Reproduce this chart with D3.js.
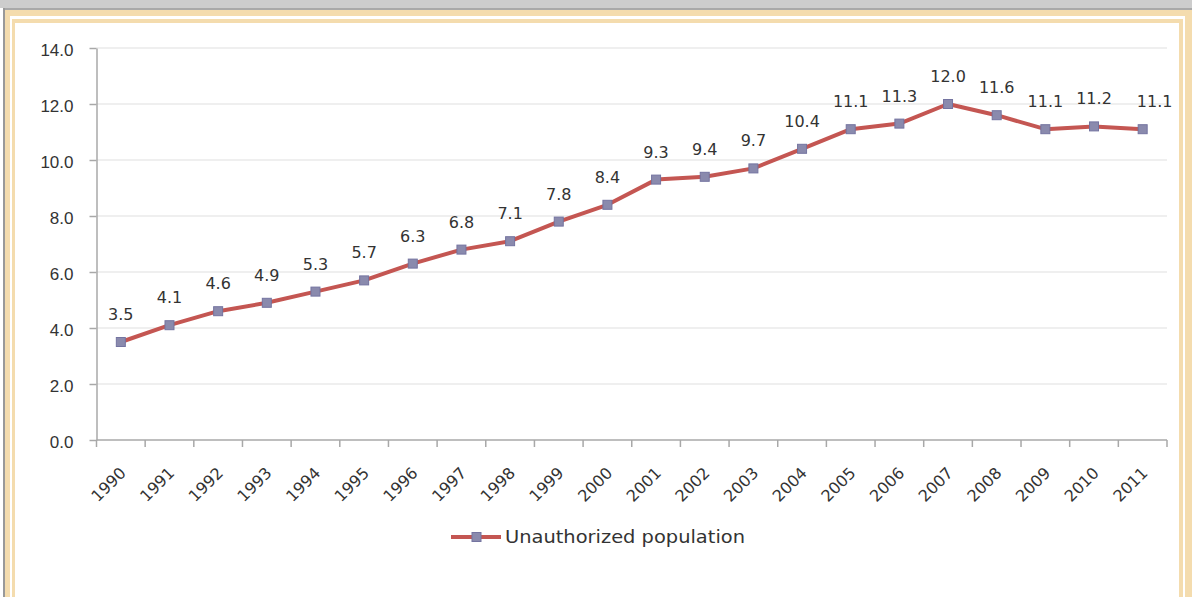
<!DOCTYPE html>
<html>
<head>
<meta charset="utf-8">
<script src="https://cdn.jsdelivr.net/npm/d3@7"></script>
<style>
  body { margin: 0; background: #fff; }
  svg { display: block; font-family: "DejaVu Sans", Verdana, sans-serif; }
  .grid line { stroke: #dfdfdf; stroke-width: 1; }
  .axis path, .axis line { stroke: #a8a8a8; stroke-width: 1.5; }
  .axis text { fill: #333; }
</style>
</head>
<body>
<div id="chart"></div>
<script>
// Data
const years = ["1990","1991","1992","1993","1994","1995","1996","1997","1998","1999","2000",
               "2001","2002","2003","2004","2005","2006","2007","2008","2009","2010","2011"];
const population = [3.5, 4.1, 4.6, 4.9, 5.3, 5.7, 6.3, 6.8, 7.1, 7.8, 8.4,
                    9.3, 9.4, 9.7, 10.4, 11.1, 11.3, 12.0, 11.6, 11.1, 11.2, 11.1];
const yTicks = [0, 2, 4, 6, 8, 10, 12, 14];
const seriesName = "Unauthorized population";

const width = 1192, height = 597;
const lineColor = "#c45652", markerFill = "#8a8aad", markerStroke = "#7474a0";
const beige = "#f4dcae";

const svg = d3.select("#chart").append("svg")
    .attr("width", width)
    .attr("height", height);

// Frame (window chrome + beige double border)
svg.append("rect").attr("x", 0).attr("y", 0).attr("width", width).attr("height", 8).attr("fill", "#cdcdcd");
svg.append("rect").attr("x", 3).attr("y", 8).attr("width", width - 3).attr("height", 2).attr("fill", "#a9a9a9");
svg.append("rect").attr("x", 3).attr("y", 8).attr("width", 2).attr("height", height).attr("fill", "#999");
svg.append("rect").attr("x", 5).attr("y", 10).attr("width", width - 5).attr("height", height).attr("fill", beige);
svg.append("rect").attr("x", 10).attr("y", 16).attr("width", 1175).attr("height", height).attr("fill", "#fff");
svg.append("rect").attr("x", 12).attr("y", 19).attr("width", 1171).attr("height", height).attr("fill", beige);
svg.append("rect").attr("x", 15).attr("y", 23).attr("width", 1164).attr("height", height).attr("fill", "#fff");

// Scales
const x = d3.scaleBand()
    .domain(years)
    .range([96.5, 1167]);

const y = d3.scaleLinear()
    .domain([0, 14])
    .range([440, 48]);

const cx = d => x(d) + x.bandwidth() / 2;

// Gridlines
svg.append("g")
    .attr("class", "grid")
    .selectAll("line")
    .data(yTicks.filter(d => d > 0))
    .enter()
    .append("line")
        .attr("x1", x.range()[0])
        .attr("x2", x.range()[1])
        .attr("y1", d => y(d))
        .attr("y2", d => y(d));

// Y axis
const yAxis = svg.append("g")
    .attr("class", "axis")
    .attr("transform", `translate(${x.range()[0]},0)`)
    .call(d3.axisLeft(y)
        .tickValues(yTicks)
        .tickFormat(d3.format(".1f"))
        .tickSize(7)
        .tickSizeOuter(0)
        .tickPadding(16));
yAxis.selectAll("text")
    .style("font-size", "17px")
    .attr("dy", "0.45em");

// X axis: ticks between categories
const xAxis = svg.append("g")
    .attr("class", "axis")
    .attr("transform", `translate(0,${y(0)})`);
xAxis.append("line")
    .attr("x1", x.range()[0])
    .attr("x2", x.range()[1]);
xAxis.selectAll(".tick")
    .data(years.concat(["end"]))
    .enter()
    .append("line")
        .attr("class", "tick")
        .attr("x1", (d, i) => x.range()[0] + i * x.bandwidth())
        .attr("x2", (d, i) => x.range()[0] + i * x.bandwidth())
        .attr("y1", 0)
        .attr("y2", 7);
xAxis.selectAll("text")
    .data(years)
    .enter()
    .append("text")
        .attr("transform", d => `translate(${cx(d) + 6},${34}) rotate(-45)`)
        .attr("text-anchor", "end")
        .style("font-size", "16px")
        .text(d => d);

// Line
const line = d3.line()
    .x((d, i) => cx(years[i]))
    .y(d => y(d));

svg.append("path")
    .datum(population)
    .attr("fill", "none")
    .attr("stroke", lineColor)
    .attr("stroke-width", 4)
    .attr("stroke-linejoin", "round")
    .attr("d", line);

// Markers
svg.append("g")
    .selectAll("rect")
    .data(population)
    .enter()
    .append("rect")
        .attr("x", (d, i) => cx(years[i]) - 4.5)
        .attr("y", d => y(d) - 4.5)
        .attr("width", 9)
        .attr("height", 9)
        .attr("fill", markerFill)
        .attr("stroke", markerStroke)
        .attr("stroke-width", 1);

// Data labels (last one nudged right, like Excel does)
svg.append("g")
    .selectAll("text")
    .data(population)
    .enter()
    .append("text")
        .attr("x", (d, i) => cx(years[i]) + (i === population.length - 1 ? 12 : 0))
        .attr("y", d => y(d) - 22)
        .attr("text-anchor", "middle")
        .attr("fill", "#333")
        .style("font-size", "16px")
        .text(d => d.toFixed(1));

// Legend
const legend = svg.append("g").attr("transform", "translate(451,537)");
legend.append("line")
    .attr("x1", 0).attr("x2", 50)
    .attr("stroke", lineColor)
    .attr("stroke-width", 4);
legend.append("rect")
    .attr("x", 21).attr("y", -4.5)
    .attr("width", 9).attr("height", 9)
    .attr("fill", markerFill)
    .attr("stroke", markerStroke);
legend.append("text")
    .attr("x", 54)
    .attr("y", 6)
    .attr("fill", "#333")
    .style("font-size", "17px")
    .attr("textLength", 240)
    .attr("lengthAdjust", "spacingAndGlyphs")
    .text(seriesName);
</script>
</body>
</html>
